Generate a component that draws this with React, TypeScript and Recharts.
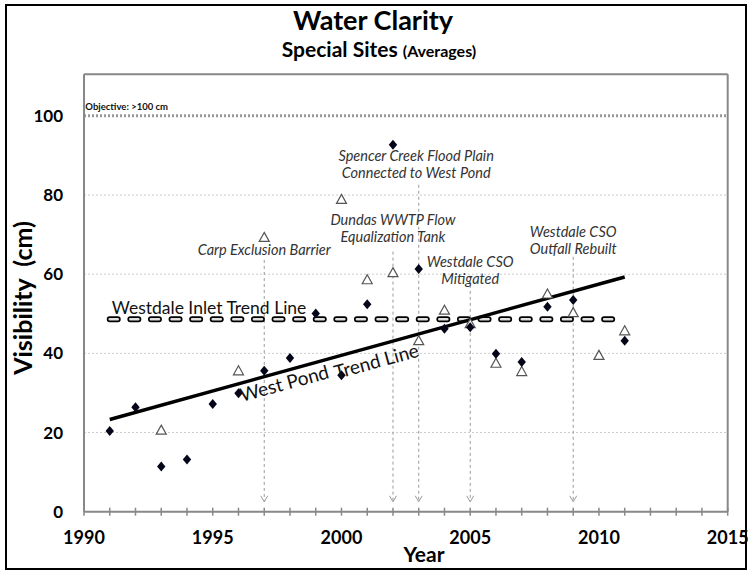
import React from 'react';
import {
  ComposedChart, Scatter, XAxis, YAxis, CartesianGrid, ReferenceLine, ReferenceDot
} from 'recharts';

const FONT = 'Lato, "Open Sans", sans-serif';

// West Pond averages (filled diamonds)
const westPondYears = [1991, 1992, 1993, 1994, 1995, 1996, 1997, 1998, 1999, 2000, 2001, 2002, 2003, 2004, 2005, 2006, 2007, 2008, 2009, 2011];
const westPondValues = [20.4, 26.4, 11.4, 13.2, 27.2, 29.9, 35.6, 38.8, 50.1, 34.5, 52.4, 92.7, 61.3, 46.2, 46.6, 39.9, 37.8, 51.8, 53.5, 43.2];

// Westdale Inlet averages (open triangles)
const inletYears = [1993, 1996, 1997, 2000, 2001, 2002, 2003, 2004, 2005, 2006, 2007, 2008, 2009, 2010, 2011];
const inletValues = [20.6, 35.6, 69.3, 78.9, 58.6, 60.4, 43.2, 50.9, 47.5, 37.5, 35.4, 55.0, 50.3, 39.5, 45.7];

// trend lines (end points)
const westPondTrendYears = [1991, 2011];
const westPondTrendValues = [23.3, 59.3];
const inletTrendYears = [1991, 2011];
const inletTrendValues = [48.6, 48.6];

const objective = 100;
const yearTicks = [1990, 1991, 1992, 1993, 1994, 1995, 1996, 1997, 1998, 1999, 2000, 2001, 2002, 2003, 2004, 2005, 2006, 2007, 2008, 2009, 2010, 2011, 2012, 2013, 2014, 2015];
const valueTicks = [0, 20, 40, 60, 80, 100];

// management events: year, where the arrow starts, label anchor
const eventYears = [1997, 2002, 2003, 2005, 2009];
const eventArrowTops = [63.6, 65.7, 82.6, 57.3, 64.4];
const eventLabels = [
  { year: 1997, v: 66.3, lines: ['Carp Exclusion Barrier'] },
  { year: 2002.9, v: 90.1, lines: ['Spencer Creek Flood Plain', 'Connected to West Pond'] },
  { year: 2002, v: 73.7, lines: ['Dundas WWTP Flow', 'Equalization Tank'] },
  { year: 2005, v: 63.2, lines: ['Westdale CSO', 'Mitigated'] },
  { year: 2009, v: 70.8, lines: ['Westdale CSO', 'Outfall Rebuilt'] },
];

const westPond = westPondYears.map((year, i) => ({ year, v: westPondValues[i] }));
const inlet = inletYears.map((year, i) => ({ year, v: inletValues[i] }));
const westTrend = westPondTrendYears.map((year, i) => ({ x: year, y: westPondTrendValues[i] }));
const inletTrend = inletTrendYears.map((year, i) => ({ x: year, y: inletTrendValues[i] }));

const Diamond = (props: any) => {
  const { cx, cy } = props;
  return <path d={`M${cx},${cy - 5}L${cx + 4.2},${cy}L${cx},${cy + 5}L${cx - 4.2},${cy}Z`} fill="#05051a" />;
};

const Triangle = (props: any) => {
  const { cx, cy } = props;
  return (
    <path
      d={`M${cx},${cy - 5}L${cx + 5},${cy + 4}L${cx - 5},${cy + 4}Z`}
      fill="#fff"
      stroke="#555"
      strokeWidth={1.2}
    />
  );
};

const YearTick = (props: any) => {
  const { x, y, payload } = props;
  const v = payload.value;
  return (
    <g>
      <line x1={x} x2={x} y1={y - 4} y2={y + 4} stroke="#888" strokeWidth={1.5} />
      {v % 5 === 0 && (
        <text x={x} y={y + 32} textAnchor="middle" fontFamily={FONT} fontWeight={700} fontSize={18} fill="#000">
          {v}
        </text>
      )}
    </g>
  );
};

const EventArrow = (props: any) => {
  const { x1, y1, x2, y2 } = props;
  return (
    <g>
      <line x1={x1} y1={y1} x2={x2} y2={y2} stroke="#9a9a9a" strokeWidth={1} strokeDasharray="3 3" />
      <path d={`M${x2 - 3.5},${y2 - 6}L${x2},${y2}L${x2 + 3.5},${y2 - 6}`} fill="none" stroke="#9a9a9a" strokeWidth={1} />
    </g>
  );
};

const labelShape = (lines: string[]) => (props: any) => {
  const { cx, cy } = props;
  return (
    <text x={cx} y={cy} textAnchor="middle" fontFamily={FONT} fontStyle="italic" fontSize={14.5} fill="#333">
      {lines.map((l, i) => (
        <tspan key={i} x={cx} y={cy + i * 17} dominantBaseline="central">{l}</tspan>
      ))}
    </text>
  );
};

const rotatedText = (text: string) => (props: any) => {
  const { cx, cy } = props;
  return (
    <text
      x={cx}
      y={cy}
      transform={`rotate(-15.3 ${cx} ${cy})`}
      textAnchor="middle"
      dominantBaseline="central"
      fontFamily={FONT}
      fontSize={19}
      fill="#111"
    >
      {text}
    </text>
  );
};

const App: React.FC = () => {
  return (
    <div style={{ position: 'absolute', left: 0, top: 0, width: 750, height: 570, background: '#fff', fontFamily: FONT }}>
      <div style={{ position: 'absolute', left: 5, top: 4, width: 742, height: 566, border: '2.5px solid #000', boxSizing: 'border-box' }} />
      <div style={{ position: 'absolute', left: 0, top: 6, width: 746, textAlign: 'center', fontSize: 27, fontWeight: 700, lineHeight: '27px' }}>
        Water Clarity
      </div>
      <div style={{ position: 'absolute', left: 0, top: 38, width: 758, textAlign: 'center', fontSize: 21, fontWeight: 700, lineHeight: '21px' }}>
        Special Sites <span style={{ fontSize: 16 }}>(Averages)</span>
      </div>
      <div style={{ position: 'absolute', left: 0, top: 0 }}>
        <ComposedChart width={750} height={570} margin={{ top: 74.3, right: 22.3, bottom: 0, left: 0 }}>
          <CartesianGrid vertical={false} stroke="#cccccc" strokeDasharray="2 2" />
          <XAxis
            dataKey="year"
            type="number"
            domain={[1990, 2015]}
            ticks={yearTicks}
            interval={0}
            height={58.3}
            tickSize={0}
            tickMargin={0}
            tickLine={false}
            axisLine={{ stroke: '#888', strokeWidth: 2 }}
            tick={YearTick}
            allowDataOverflow
          />
          <YAxis
            dataKey="v"
            type="number"
            domain={[0, 110.5]}
            ticks={valueTicks}
            width={84}
            tickSize={0}
            tickMargin={21}
            tickLine={false}
            axisLine={{ stroke: '#888', strokeWidth: 2 }}
            tick={{ fontFamily: FONT, fontWeight: 700, fontSize: 17, fill: '#000' }}
            allowDataOverflow
          />
          <ReferenceLine y={110.5} stroke="#888" strokeWidth={2} />
          <ReferenceLine x={2015} stroke="#888" strokeWidth={2} />
          <ReferenceLine y={objective} stroke="#999" strokeWidth={3} strokeDasharray="2 2" />

          {eventYears.map((yr, i) => (
            <ReferenceLine
              key={'ev' + yr}
              segment={[{ x: yr, y: eventArrowTops[i] }, { x: yr, y: 2.5 }]}
              shape={EventArrow}
            />
          ))}

          <ReferenceLine segment={inletTrend} stroke="#000" strokeWidth={6} strokeDasharray="8 12.6" strokeLinecap="round" />
          <ReferenceLine segment={inletTrend} stroke="#e0e0e0" strokeWidth={2.6} strokeDasharray="8 12.6" strokeLinecap="round" />
          <ReferenceLine segment={westTrend} stroke="#000" strokeWidth={3.5} />

          <Scatter data={inlet} shape={Triangle} isAnimationActive={false} />
          <Scatter data={westPond} shape={Diamond} isAnimationActive={false} />

          {eventLabels.map((ev, i) => (
            <ReferenceDot key={'lb' + i} x={ev.year} y={ev.v} r={0} shape={labelShape(ev.lines)} />
          ))}

          <ReferenceDot
            x={1991.08}
            y={51.7}
            r={0}
            shape={(p: any) => (
              <text x={p.cx} y={p.cy} dominantBaseline="central" fontFamily={FONT} fontSize={17.5} fill="#111">
                Westdale Inlet Trend Line
              </text>
            )}
          />
          <ReferenceDot x={1997.77} y={32.6} r={0} shape={rotatedText('West Pond')} />
          <ReferenceDot x={2001.35} y={38.2} r={0} shape={rotatedText('Trend Line')} />
          <ReferenceDot
            x={1990.05}
            y={102.3}
            r={0}
            shape={(p: any) => (
              <text x={p.cx} y={p.cy} dominantBaseline="central" fontFamily={FONT} fontSize={9.5} fontWeight={700} fill="#111">
                Objective: &gt;100 cm
              </text>
            )}
          />
        </ComposedChart>
      </div>
      <div
        style={{
          position: 'absolute',
          left: 22,
          top: 298,
          transform: 'translate(-50%, -50%) rotate(-90deg)',
          whiteSpace: 'nowrap',
          fontSize: 25,
          fontWeight: 700,
        }}
      >
        Visibility&nbsp;&nbsp;(cm)
      </div>
      <div style={{ position: 'absolute', left: 424, top: 553, transform: 'translate(-50%, -50%)', fontSize: 21, fontWeight: 700 }}>
        Year
      </div>
    </div>
  );
};

export default App;
